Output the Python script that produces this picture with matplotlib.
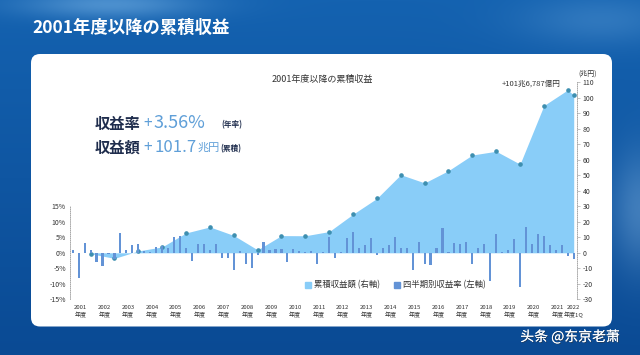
import numpy as np
import matplotlib
matplotlib.use('Agg')
import matplotlib.pyplot as plt
from matplotlib.patches import FancyBboxPatch
from matplotlib.lines import Line2D
import matplotlib.patheffects as pe

plt.rcParams['font.family'] = ['Noto Sans CJK JP', 'DejaVu Sans']

# ---------------- data ----------------
fiscal_years = [str(y) for y in range(2001, 2023)]
year_suffix = ['年度'] * 21 + ['年度1Q']

# quarterly return (%), FY2001 Q1 ... FY2022 Q1
quarterly_returns = [
    0.9, -8.0, 3.3, 0.9,     # 2001
    -2.9, -4.1, -0.5, -2.0,  # 2002
    6.3, 0.9, 2.5, 2.7,      # 2003
    0.5, 0.3, 1.8, 2.2,      # 2004
    1.4, 5.0, 5.4, 1.4,      # 2005
    -2.7, 3.0, 3.0, 0.9,     # 2006
    2.7, -1.8, -1.8, -5.4,   # 2007
    0.7, -3.5, -4.8, -0.8,   # 2008
    3.6, 0.9, 1.2, 1.1,      # 2009
    -2.9, 1.3, 0.5, 0.4,     # 2010
    0.5, -3.5, 0.3, 5.0,     # 2011
    -1.8, 0.3, 4.7, 6.6,     # 2012
    1.7, 2.5, 4.7, -0.8,     # 2013
    1.4, 2.5, 5.0, 1.7,      # 2014
    1.7, -5.7, 3.4, -3.5,    # 2015
    -4.0, 1.6, 7.9, 0.4,     # 2016
    3.3, 2.8, 3.6, -3.5,     # 2017
    1.4, 3.0, -9.2, 6.1,     # 2018
    0.3, 0.9, 4.5, -11.1,    # 2019
    8.2, 2.7, 6.1, 5.4,      # 2020
    2.4, 0.8, 2.6, -1.1,     # 2021
    -2.0,                    # 2022 1Q
]

# cumulative return (兆円) at each fiscal year end, plus FY2022 1Q
cumulative_values = [-0.6, -3.6, 1.2, 3.8, 12.8, 16.7, 11.2, 1.9, 11.1, 11.0,
                     13.7, 24.9, 35.1, 50.4, 45.1, 53.0, 63.1, 65.5, 57.2,
                     95.0, 105.1, 101.7]

left_ticks = [-15, -10, -5, 0, 5, 10, 15]
right_ticks = list(range(-30, 111, 10))

# ---------------- figure ----------------
W, H = 640, 355
fig = plt.figure(figsize=(W / 100, H / 100), dpi=100)

# background (blue, softly blurred look)
bg = fig.add_axes([0, 0, 1, 1], zorder=-10)
yy, xx = np.mgrid[0:H, 0:W]
t = yy / H
img = np.zeros((H, W, 3))
top = np.array([20, 98, 176]) / 255
bot = np.array([10, 74, 148]) / 255
for c in range(3):
    img[..., c] = top[c] * (1 - t) + bot[c] * t
blob1 = np.exp(-(((xx - 110) / 90) ** 2 + ((yy - 4) / 14) ** 2))
blob2 = np.exp(-(((xx - 640) / 30) ** 2 + ((yy - 210) / 60) ** 2))
blob3 = np.exp(-(((xx - 600) / 80) ** 2 + ((yy - 20) / 25) ** 2))
for c, amp in enumerate([0.22, 0.18, 0.12]):
    img[..., c] += amp * blob1 + amp * 0.9 * blob2 + amp * 0.5 * blob3
img = np.clip(img, 0, 1)
bg.imshow(img, aspect='auto', extent=[0, 1, 0, 1], origin='upper')
bg.axis('off')

panel = FancyBboxPatch((0.31, 0.285), 5.81, 2.725,
                       boxstyle='round,pad=0,rounding_size=0.09',
                       transform=fig.dpi_scale_trans,
                       facecolor='white', edgecolor='none', zorder=-5)
fig.add_artist(panel)

# ---------------- axes ----------------
ax = fig.add_axes([70 / W, (H - 299.3) / H, 507 / W, 217 / H])
ax.patch.set_visible(False)
ax2 = ax.twinx()
ax2.patch.set_visible(False)

n_q = len(quarterly_returns)
q_idx = np.arange(n_q)
cum_idx = [4 * k + 3 for k in range(len(cumulative_values) - 1)] + [n_q - 1]

area_color = '#89cdf8'
dot_color = '#3e8fb0'
bar_color = '#6393d6'

ax.fill_between(cum_idx, 0, cumulative_values, color=area_color, lw=0, zorder=1)
ax.plot(cum_idx, cumulative_values, ls='none', marker='o', ms=2.3,
        color=dot_color, zorder=3)
ax.set_xlim(-0.45, n_q - 0.45)
ax.set_ylim(-30, 110)

ax2.bar(q_idx, quarterly_returns, width=0.36, color=bar_color, zorder=2)
ax2.set_ylim(-15, 55)

# y axes: area scale on the right, bar scale on the left
ax.yaxis.tick_right()
ax2.yaxis.tick_left()
ax.set_yticks(right_ticks)
ax.set_yticklabels([str(v) for v in right_ticks])
ax2.set_yticks(left_ticks)
ax2.set_yticklabels([f'{v}%' for v in left_ticks])
ax.tick_params(axis='y', labelsize=5, colors='#aaaaaa', labelcolor='#333333',
               length=2, width=0.5, pad=2)
ax2.tick_params(axis='y', labelsize=5, length=0, pad=3, labelcolor='#333333')

for a in (ax, ax2):
    for s in a.spines.values():
        s.set_visible(False)
ax.spines['right'].set_visible(True)
ax.spines['right'].set_linestyle((0, (1, 1.5)))
ax.spines['right'].set_color('#9a9a9a')
ax.spines['right'].set_linewidth(0.6)
ax2.spines['left'].set_visible(True)
ax2.spines['left'].set_bounds(-15, 15)
ax2.spines['left'].set_linestyle((0, (1, 1.5)))
ax2.spines['left'].set_color('#9a9a9a')
ax2.spines['left'].set_linewidth(0.6)

# x tick labels
xt = [4 * k + 1.3 for k in range(len(fiscal_years) - 1)] + [n_q - 1]
ax.set_xticks(xt)
ax.set_xticklabels([f'{y}\n{s}' for y, s in zip(fiscal_years, year_suffix)],
                   fontsize=4.3, color='#333333', linespacing=1.5)
ax.tick_params(axis='x', length=0, pad=4)
ax2.tick_params(axis='x', length=0, labelbottom=False)

# legend
handles = [Line2D([], [], ls='none', marker='s', ms=4.3, color=area_color),
           Line2D([], [], ls='none', marker='s', ms=4.3, color=bar_color)]
fig.legend(handles, ['累積収益額 (右軸)', '四半期別収益率 (左軸)'],
           loc='center left', bbox_to_anchor=(305 / W, 1 - 285 / H),
           bbox_transform=fig.transFigure, ncol=2, frameon=False,
           fontsize=6, handlelength=0.8, handletextpad=0.3,
           columnspacing=1.6, borderpad=0, borderaxespad=0,
           labelcolor='#333333')

# ---------------- texts ----------------
def ftext(x, y, s, **kw):
    return fig.text(x / W, 1 - y / H, s, **kw)

ftext(32, 28, '2001年度以降の累積収益', fontsize=12.5, weight='bold',
      color='white', va='center', ha='left')
ftext(322, 79, '2001年度以降の累積収益', fontsize=6.5, color='#333333',
      ha='center', va='center')
ftext(531, 83.5, '+101兆6,787億円', fontsize=5.5, color='#333333',
      ha='center', va='center')
ftext(588, 73.5, '(兆円)', fontsize=5, color='#333333', ha='center', va='center')

navy = '#1f2d4d'
light = '#5f9fd8'
# line 1
ftext(95, 124, '収益率', fontsize=11, weight='bold', color=navy, va='center')
ftext(143, 124, '+', fontsize=11, color=light, va='center')
ftext(153, 123, '3.56%', fontsize=13, color=light, va='center')
ftext(221, 125, '(年率)', fontsize=5.5, weight='bold', color=navy, va='center')
# line 2
ftext(95, 148, '収益額', fontsize=11, weight='bold', color=navy, va='center')
ftext(143, 148, '+', fontsize=11, color=light, va='center')
ftext(154, 147, '101.7', fontsize=12, color=light, va='center')
ftext(197.5, 148, '兆円', fontsize=8, color=light, va='center')
ftext(220, 149, '(累積)', fontsize=5.5, weight='bold', color=navy, va='center')

# watermark
wm = ftext(570, 337, '头条 @东京老萧', fontsize=10, color='white',
           ha='center', va='center', family=['Noto Sans CJK SC', 'DejaVu Sans'])
wm.set_path_effects([pe.withSimplePatchShadow(offset=(0.6, -0.6),
                                              shadow_rgbFace='#333333', alpha=0.6),
                     pe.Normal()])

fig.savefig('out.png', dpi=100)
